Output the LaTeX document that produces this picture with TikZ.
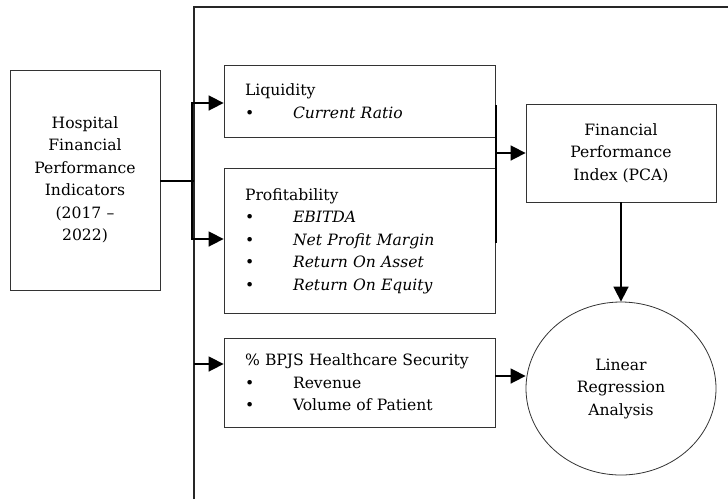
\documentclass[tikz,border=0pt]{standalone}
\usepackage{fontspec}
\setmainfont{DejaVu Serif}
\usetikzlibrary{positioning}
\usetikzlibrary{arrows.meta}
\usetikzlibrary{shapes.geometric}

\begin{document}
\begin{tikzpicture}[x=1pt,y=-1pt,
            every node/.style={font=\fontsize{15.6}{22.5}\selectfont},
            indicator/.style={draw=black!80,line width=0.8pt,rectangle,align=center,
            minimum width=150pt,minimum height=220pt,text width=140pt,inner sep=0pt},
            group/.style={draw=black!80,line width=0.8pt,rectangle,align=left,
            text width=229pt,inner xsep=21pt,inner ysep=0pt,minimum width=271pt},
            result/.style={draw=black!80,line width=0.8pt,rectangle,align=center,
            minimum width=190pt,minimum height=98pt,inner sep=0pt},
            analysis/.style={draw=black!80,line width=0.8pt,ellipse,align=center,
            minimum width=190pt,minimum height=173pt,inner sep=0pt},
            link/.style={line width=1.6pt},
            flow/.style={line width=1.6pt,-{Triangle[length=15pt,width=15pt]}},
            frame/.style={line width=1.2pt,black!85}]
        \useasboundingbox (0,0) rectangle (728,499);
        \newcommand{\itm}[1]{\makebox[48pt][l]{\textbullet}#1}

        \node[indicator] (hospital) at (85,180) {Hospital\\Financial\\Performance\\Indicators\\(2017 --\\2022)};
        \node[group,minimum height=72pt] (liquidity) at (359.5,101) {Liquidity\\\itm{\textit{Current Ratio}}};
        \node[group,minimum height=145pt] (profit) at (359.5,241) {Profitability\\\itm{\textit{EBITDA}}\\\itm{\textit{Net Profit Margin}}\\\itm{\textit{Return On Asset}}\\\itm{\textit{Return On Equity}}};
        \node[group,minimum height=89pt] (bpjs) at (359.5,382.5) {\% BPJS Healthcare Security\\\itm{Revenue}\\\itm{Volume of Patient}};
        \node[result] (index) at (621,153) {Financial\\Performance\\Index (PCA)};
        \node[analysis] (regression) at (621,388.5) {Linear\\Regression\\Analysis};

        \coordinate (split) at (192,181);
        \coordinate (bpjs-in) at (194,364);
        \coordinate (merge) at (496,153);
        \coordinate (bpjs-out) at (495,376);

        \draw[frame] (194,499) -- (194,7) -- (728,7);
        \draw[link] (hospital.east |- split) -- (194,181);
        \draw[flow] (split) |- (liquidity.west |- 0,103);
        \draw[flow] (split) |- (profit.west |- 0,239);
        \draw[flow] (bpjs-in) -- (bpjs.west |- bpjs-in);
        \draw[link] (496,105) -- (496,243);
        \draw[flow] (merge) -- (index.west);
        \draw[flow] (index.south) -- (regression.north);
        \draw[flow] (bpjs-out) -- (regression.west |- bpjs-out);
    \end{tikzpicture}
\end{document}
